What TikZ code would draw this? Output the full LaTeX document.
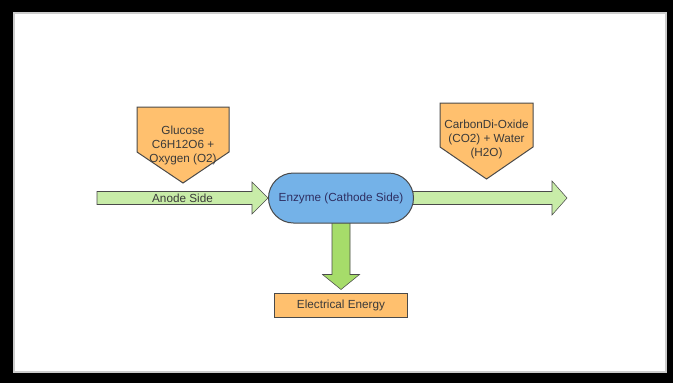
\documentclass[tikz,border=0pt]{standalone}
\usepackage{fontspec}
\setsansfont{Liberation Sans}
\usetikzlibrary{positioning,calc,backgrounds}

\definecolor{orangefill}{HTML}{FFC06E}
\definecolor{greenfill}{HTML}{C8ECA8}
\definecolor{downfill}{HTML}{A6DC6A}
\definecolor{bluefill}{HTML}{74B2E8}
\definecolor{edgegray}{HTML}{4A4A4A}
\definecolor{textgray}{HTML}{3A3A3A}

\begin{document}
\begin{tikzpicture}[x=0.75pt,y=-0.75pt,line width=0.75pt,
    label font/.style={font=\sffamily\fontsize{8.8}{10.5}\selectfont,text=textgray},
    box shape/.style={draw=edgegray,fill=orangefill},
    box node/.style={box shape,label font,inner sep=0pt,minimum width=99.75pt,minimum height=18pt},
    enzyme node/.style={draw=edgegray,fill=bluefill,label font,text=textgray!80!blue,
        rounded corners=18.75pt,inner sep=0pt,minimum width=108.75pt,minimum height=37.5pt},
    fat arrow/.style={draw=edgegray,fill=greenfill,line join=miter},
    fat down/.style={fat arrow,fill=downfill}]

    % main nodes
    \node[enzyme node] (enz) at (341,198) {Enzyme (Cathode Side)};
    \node[box node] (elec) at (341,305) {Electrical Energy};
    \coordinate (src) at (97,198);
    \coordinate (out) at (567,198);
    \coordinate (tip) at ($(elec.north)+(0,-3)$);

    % inputs and outputs
    \draw[box shape] (137,107) -- (229,107) -- (229,152) -- (183,183) -- (137,152) -- cycle;
    \node[label font,align=center] (glucose) at (183,145) {Glucose\\C6H12O6 +\\Oxygen (O2)};
    \draw[box shape] (440,103) -- (533,103) -- (533,147) -- (486.5,179) -- (440,147) -- cycle;
    \node[label font,align=center] (products) at (486.5,139) {CarbonDi-Oxide\\(CO2) + Water\\(H2O)};

    \begin{scope}[on background layer]
    % frame
    \fill[black] (0,0) rectangle (673,383);
    \fill[white] (13,12) rectangle (667,373);
    \draw[gray!40,line width=1pt] (14,13) rectangle (666,372);

    % arrows, behind the enzyme
    \draw[fat arrow] ($(src)+(0,-6.5)$) -- ($(enz.west)+(-16,-6.5)$) -- ($(enz.west)+(-16,-16)$)
        -- (enz.west) -- ($(enz.west)+(-16,16)$) -- ($(enz.west)+(-16,6.5)$) -- ($(src)+(0,6.5)$) -- cycle;
    \draw[fat arrow] ($(enz.east)+(-2,-6.5)$) -- ($(out)+(-15,-6.5)$) -- ($(out)+(-15,-17)$)
        -- (out) -- ($(out)+(-15,17)$) -- ($(out)+(-15,6.5)$) -- ($(enz.east)+(-2,6.5)$);
    \draw[fat down] ($(enz.south)+(-9,-2)$) -- ($(tip)+(-9,-15)$) -- ($(tip)+(-18.5,-15)$)
        -- (tip) -- ($(tip)+(18.5,-15)$) -- ($(tip)+(9,-15)$) -- ($(enz.south)+(9,-2)$);
    \end{scope}

    \node[label font] (anode) at ($(src)!0.5!(enz.west)$) {Anode Side};
\end{tikzpicture}
\end{document}
